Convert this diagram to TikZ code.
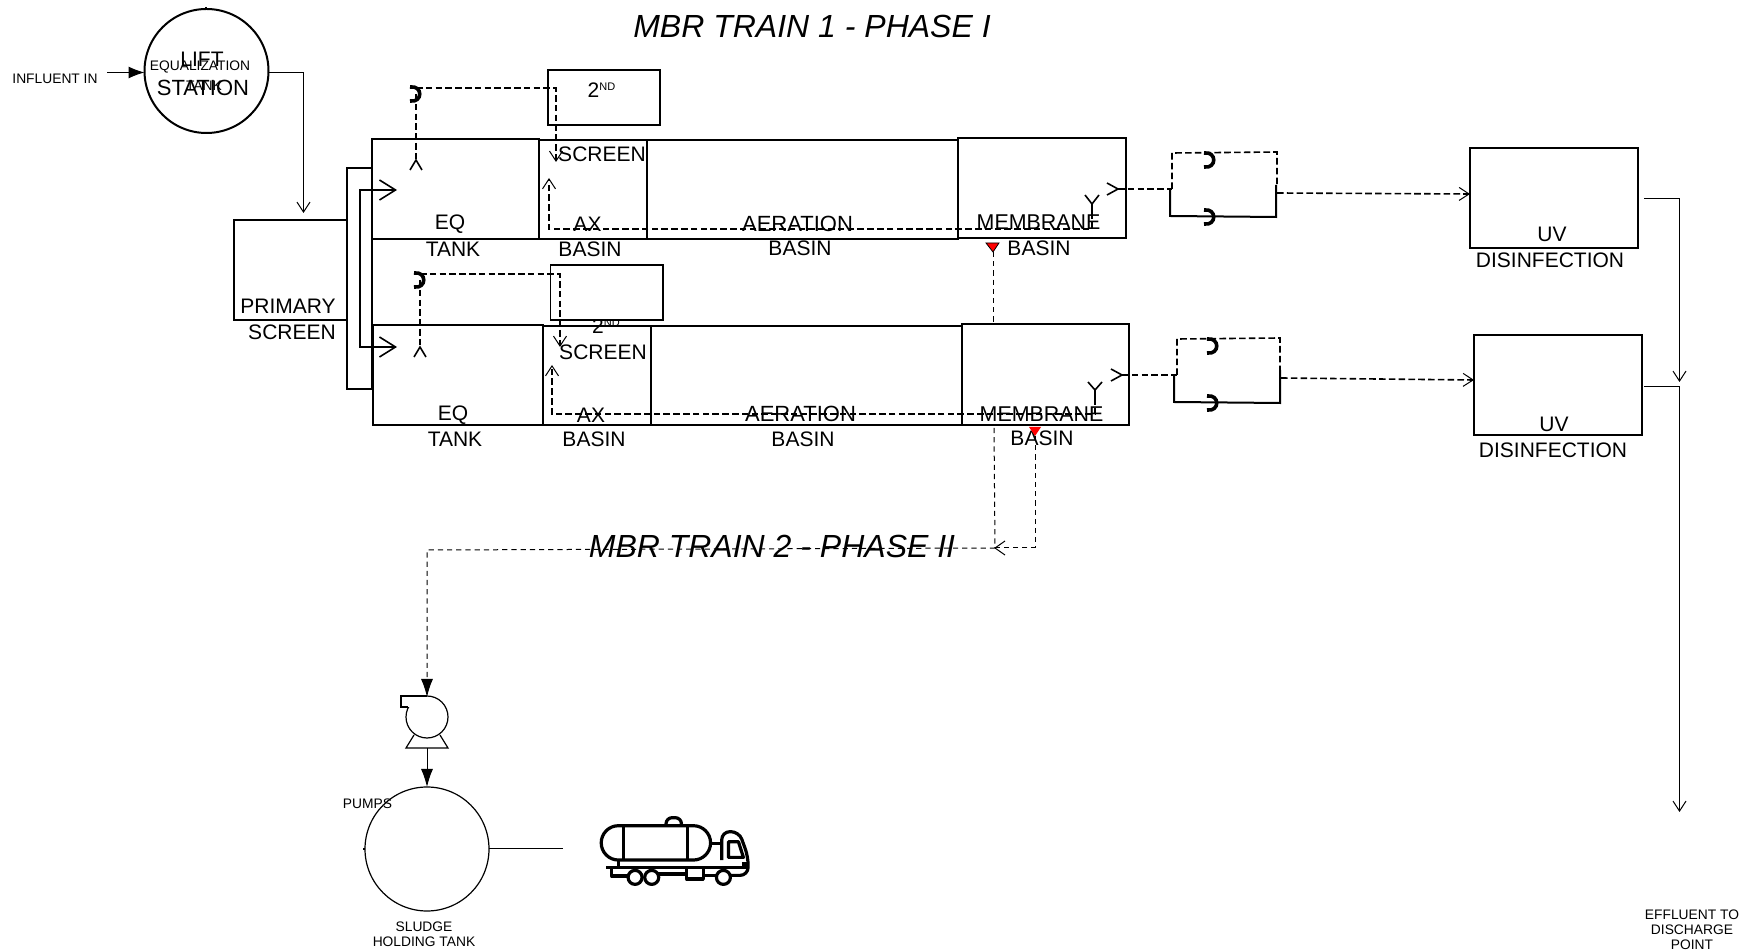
\documentclass[tikz,border=0pt]{standalone}
\usepackage{fontspec}
\setmainfont{Liberation Sans}
\usetikzlibrary{arrows.meta}
\tikzset{
  x=0.5pt,y=-0.5pt,
  lbl/.style={font=\fontsize{10.5}{12}\selectfont,inner sep=0pt,anchor=center},
  lblw/.style={font=\fontsize{11}{12}\selectfont,inner sep=0pt,anchor=center},
  lblm/.style={font=\fontsize{10.7}{12}\selectfont,inner sep=0pt,anchor=center},
  tiny/.style={font=\fontsize{6.9}{7.6}\selectfont,inner sep=0pt,anchor=center,align=center},
  ttl/.style={font=\fontsize{16}{20}\selectfont\itshape,inner sep=0pt,anchor=center},
  tankbox/.style 2 args={draw,line width=1pt,anchor=north west,inner sep=0pt,outer sep=0pt,minimum width=#1*0.5pt,minimum height=#2*0.5pt},
  ringbox/.style={draw,circle,inner sep=0pt,outer sep=0pt,minimum size=#1*0.5pt},
  solidline/.style={line width=0.5pt},
  openhead/.style={-{Straight Barb[length=5pt,width=6.5pt,line width=0.5pt]}},
  dashline/.style={line width=0.8pt,dash pattern=on 3.3pt off 1.6pt},
  thindash/.style={line width=0.5pt,dash pattern=on 2.6pt off 2pt},
  barbmark/.style={line width=0.8pt},
  pics/hookmark/.style={code={\draw[line width=1.8pt] (-6,-7) .. controls (7,-9) and (7,9) .. (-6,7);}},
  truckline/.style={line width=1.6pt,line join=round},
}
\begin{document}
\begin{tikzpicture}
\useasboundingbox (0,0) rectangle (1763,951);

% titles
\node[ttl] (title1) at (812,26) {MBR TRAIN 1 - PHASE I};

% lift station
\node[ringbox=124,line width=1pt] (lift) at (206.5,71) {};
\draw[line width=0.8pt] (206,7) -- (206,9);
\node[lbl] (liftA) at (202,59) {LIFT};
\node[lblw] (liftB) at (203,88) {STATION};
\node[tiny] (eqA) at (200,67) {EQUALIZATION};
\node[tiny] (eqB) at (204,86) {TANK};
\node[tiny] (inf) at (55,79) {INFLUENT IN};
\coordinate (infS) at (107,72.5);
\draw[solidline,-{Latex[length=8pt,width=6pt]}] (infS) -- (lift.west |- infS);

% primary screen
\node[tankbox={112.5}{100}] (prim) at (234,220) {};
\node[lbl] (primA) at (288,306) {PRIMARY};
\node[lbl] (primB) at (292,332) {SCREEN};
\coordinate (primTip) at (303.5,213);
\draw[solidline,openhead] (lift.east |- infS) -| (primTip);

% distribution channel
\node[tankbox={25}{221},line width=1.2pt] (chan) at (347,168) {};

% second screens
\node[tankbox={112}{55}] (scr1) at (548,70) {};
\node[lbl] (scr1t) at (601.5,90) {2\raisebox{3.5pt}{\fontsize{5.5}{5.5}\selectfont ND}};
\node[lbl] (scr2t) at (606,326) {2\raisebox{3.5pt}{\fontsize{5.5}{5.5}\selectfont ND}};
\node[tankbox={112.5}{55},fill=white,line width=0.8pt] (scr2) at (550.5,265) {};

% train 1
\node[tankbox={167}{100}] (eq1) at (372,139) {};
\node[tankbox={108}{99}] (ax1) at (539,140) {};
\node[tankbox={311}{99}] (aer1) at (647,140) {};
\node[tankbox={168}{100}] (mem1) at (958,138) {};
% train 2
\node[tankbox={170}{100}] (eq2) at (373,325) {};
\node[tankbox={108}{99}] (ax2) at (543,326) {};
\node[tankbox={311}{99}] (aer2) at (651,326) {};
\node[tankbox={167}{101}] (mem2) at (962,324) {};

% labels in train 1
\node[lbl] (l1) at (450,224) {EQ};
\node[lbl] (l2) at (453,249) {TANK};
\node[lbl] (l3) at (602,154) {SCREEN};
\node[lbl] (l4) at (587.5,224) {AX};
\node[lbl] (l5) at (590,249) {BASIN};
\node[lblw] (l6) at (797.5,224) {AERATION};
\node[lbl] (l7) at (800,248) {BASIN};
\node[lblm] (l8) at (1038.5,222) {MEMBRANE};
\node[lbl] (l9) at (1039,248) {BASIN};
% labels in train 2
\node[lbl] (m1) at (453,415) {EQ};
\node[lbl] (m2) at (455,439) {TANK};
\node[lbl] (m3) at (603,352) {SCREEN};
\node[lbl] (m4) at (591,415) {AX};
\node[lbl] (m5) at (594,439) {BASIN};
\node[lblw] (m6) at (800.5,414) {AERATION};
\node[lbl] (m7) at (803,439) {BASIN};
\node[lblm] (m8) at (1041.5,414) {MEMBRANE};
\node[lbl] (m9) at (1042,438) {BASIN};

% influent distribution
\coordinate (distA) at (397,190);
\coordinate (distB) at (397,347);
\coordinate (distL) at (360,190);
\coordinate (distM) at (360,347);
\draw[line width=0.8pt,{Straight Barb[length=8pt,width=10pt,line width=0.8pt]}-{Straight Barb[length=8pt,width=10pt,line width=0.8pt]}] (distA) -- (distL) -- (distM) -- (distB);

% pumps to second screen, train 1
\coordinate (h1) at (416,94);
\coordinate (h1t) at (416,88);
\coordinate (h1b) at (416,160);
\coordinate (s1tip) at (556,162);
\pic at (h1) {hookmark};
\draw[dashline] (h1) -- (h1b);
\draw[barbmark] (410,170) -- (h1b) -- (422,170);
\draw[dashline,openhead] (h1t) -| (s1tip);
% train 2
\coordinate (h2) at (420,280);
\coordinate (h2t) at (420,274);
\coordinate (h2b) at (420,347);
\coordinate (s2tip) at (560,347);
\pic at (h2) {hookmark};
\draw[dashline] (h2) -- (h2b);
\draw[barbmark] (414,357) -- (h2b) -- (426,357);
\draw[dashline,openhead] (h2t) -| (s2tip);

% returns
\coordinate (y1) at (1092,204);
\coordinate (y1s) at (1092,212);
\coordinate (y1d) at (1092,229);
\coordinate (r1tip) at (549,178);
\draw[barbmark] (1085,195) -- (y1) -- (1099,195) (y1) -- (y1s);
\draw[dashline,openhead] (y1s) -- (y1d) -| (r1tip);
\coordinate (y2) at (1095,390);
\coordinate (y2s) at (1095,398);
\coordinate (y2d) at (1095,414);
\coordinate (r2tip) at (552,365);
\draw[barbmark] (1088,382) -- (y2) -- (1102,382) (y2) -- (y2s);
\draw[dashline,openhead] (y2s) -- (y2d) -| (r2tip);

% permeate train 1
\coordinate (o1) at (1118,189);
\coordinate (c1a) at (1172,189);
\coordinate (c1b) at (1277,185);
\draw[barbmark] (1107,183) -- (o1) -- (1107,195);
\draw[dashline] (o1) -- (c1a);
\draw[dashline] (c1a) -- (1172,153) -- (1277,152) -- (c1b);
\draw[line width=1pt] (1170,189) -- (1170,216) -- (1276,217) -- (1276,185);
\pic at (1210,160) {hookmark};
\pic at (1210,217) {hookmark};
% permeate train 2
\coordinate (o2) at (1122,375);
\coordinate (c2a) at (1177,375);
\coordinate (c2b) at (1280,370);
\draw[barbmark] (1111,369) -- (o2) -- (1111,381);
\draw[dashline] (o2) -- (c2a);
\draw[dashline] (c2a) -- (1177,339) -- (1280,338) -- (c2b);
\draw[line width=1pt] (1174,375) -- (1174,402) -- (1280,403) -- (1280,370);
\pic at (1213,346) {hookmark};
\pic at (1213,403) {hookmark};

% UV
\node[tankbox={168}{100}] (uv1) at (1470,148.5) {};
\node[lbl] (u1) at (1552,234) {UV};
\node[lbl] (u2) at (1550,260) {DISINFECTION};
\node[tankbox={168}{100}] (uv2) at (1474,335) {};
\node[lbl] (u3) at (1554,424) {UV};
\node[lbl] (u4) at (1553,450) {DISINFECTION};
\coordinate (c1o) at (1277,193);
\coordinate (c2o) at (1281,378);
\coordinate (uv1in) at (1470,194);
\coordinate (uv2in) at (1474,380);
\draw[dashline,openhead] (c1o) -- (uv1in);
\draw[dashline,openhead] (c2o) -- (uv2in);

% effluent
\coordinate (uo1) at (1644,198.5);
\coordinate (uo2) at (1644,386.5);
\coordinate (uj1) at (1679.5,382);
\coordinate (uj2) at (1679.5,812);
\draw[solidline,openhead] (uo1) -| (uj1);
\draw[solidline,openhead] (uo2) -| (uj2);
\node[tiny] (eff) at (1692,930) {EFFLUENT TO\\DISCHARGE\\POINT};

% waste sludge
\node[ttl] (title2) at (772,546.5) {MBR TRAIN 2 - PHASE II};
\coordinate (tri1) at (993,252);
\coordinate (tri2) at (1035,436);
\fill[red] (986,243) -- (999,243) -- (tri1) -- cycle;
\draw[line width=0.4pt] (986,243) -- (999,243) -- (tri1) -- cycle;
\fill[red] (1029,427) -- (1041,427) -- (tri2) -- cycle;
\coordinate (w1) at (995,548);
\coordinate (w2) at (1035,548);
\coordinate (w3) at (427,550);
\coordinate (wMem) at (994,428);
\draw[thindash] (tri1) -- (993,324);
\draw[thindash] (wMem) -- (w1);
\draw[thindash] (tri2) -- (w2) -- (w1);
\draw[line width=0.5pt] (1005,541) -- (w1) -- (1005,555);
\coordinate (pTop) at (427,697);
\draw[thindash,-{Latex[length=9pt,width=6pt]}] (w1) -- (w3) -- (pTop);

% pump
\node[ringbox=42,line width=0.6pt] (pump) at (427,717) {};
\fill[white] (402,697) rectangle (426.5,707);
\draw[line width=0.6pt] (pump.north) -- (401,696) -- (401,707) -- (408,707);
\draw[line width=0.6pt] (414,735) -- (406,748) -- (448,748) -- (440,735);
\coordinate (pBase) at (427,748);
\node[ringbox=124,line width=0.6pt] (sludge) at (427,849) {};
\draw[solidline,-{Latex[length=9pt,width=6pt]}] (pBase) -- (sludge.north);
\draw[line width=0.8pt] (sludge.west) -- ++(-2,0);
\node[tiny] (pumps) at (367.5,804) {PUMPS};
\node[tiny] (sl) at (424,934) {SLUDGE\\HOLDING TANK};

% truck
\coordinate (truckIn) at (563,848.5);
\draw[solidline] (sludge.east |- truckIn) -- (truckIn);
\begin{scope}[shift={(340,660)}]
\begin{scope}[x=0.1667pt,y=-0.1667pt,truckline]
\draw (835,497) -- (1060,497) arc[start angle=-90,end angle=90,radius=51.5] -- (835,600) arc[start angle=90,end angle=270,radius=51.5] -- cycle;
\draw (850,497) -- (850,600) (1042,497) -- (1042,600);
\draw[rounded corners=3pt] (978,497) -- (978,473) -- (1024,473) -- (1024,497);
\draw (1110,550) -- (1145,550);
\draw[rounded corners=4pt] (1145,600) -- (1145,515) -- (1197,515) -- (1224,590) -- (1224,646) -- (1172,646);
\draw (1165,545) -- (1195,545) -- (1210,592) -- (1165,592) -- cycle;
\draw (835,600) -- (835,622) (798,622) -- (1224,622);
\draw (815,622) -- (815,648) -- (864,648);
\draw (955,642) -- (1040,642);
\draw (1040,622) -- (1040,657) -- (1090,657) -- (1090,622);
\draw (1090,646) -- (1128,646);
\draw (885,652) circle[radius=21];
\draw (935,652) circle[radius=21];
\draw (1150,652) circle[radius=21];
\draw (1205,612) -- (1224,612);
\end{scope}
\end{scope}
\end{tikzpicture}
\end{document}
